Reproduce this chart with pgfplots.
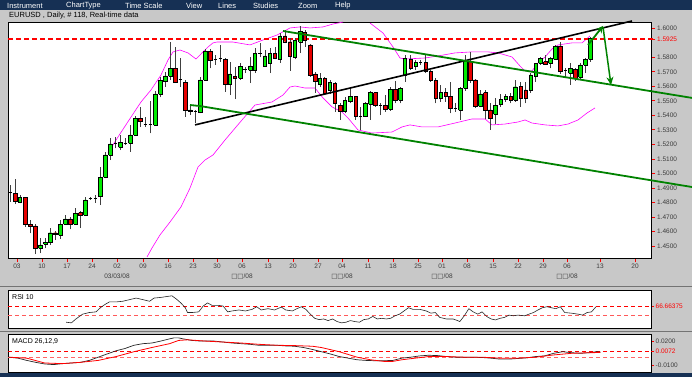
\documentclass[border=0pt]{standalone}
\usepackage{fontspec}
\setmainfont{Liberation Sans}
\newfontfamily\dejavu{DejaVu Sans}
\usepackage{pgfplots}
\usepackage{pgfplotstable}
\pgfplotsset{compat=1.18}
\usetikzlibrary{arrows.meta}
\definecolor{navy}{RGB}{22,48,84}
\definecolor{panelgray}{RGB}{200,200,200}
\definecolor{upgreen}{RGB}{0,235,0}
\definecolor{downred}{RGB}{230,0,0}
\definecolor{levelred}{RGB}{255,0,0}
\definecolor{trendgreen}{RGB}{0,130,0}
\definecolor{bandmag}{RGB}{255,0,255}
\definecolor{ticklab}{RGB}{60,60,60}

\pgfplotstableread{
x o h l c
10.7 1.4867 1.4920 1.4805 1.4867
15.3 1.4863 1.4959 1.4789 1.4805
20.0 1.4801 1.4851 1.4794 1.4835
25.3 1.4835 1.4838 1.4633 1.4651
30.3 1.4651 1.4679 1.4587 1.4638
35.3 1.4638 1.4651 1.4443 1.4484
40.3 1.4484 1.4553 1.4450 1.4507
45.3 1.4514 1.4553 1.4484 1.4527
50.3 1.4523 1.4622 1.4507 1.4591
55.3 1.4591 1.4605 1.4541 1.4582
60.3 1.4576 1.4679 1.4548 1.4649
65.3 1.4649 1.4713 1.4645 1.4686
70.3 1.4686 1.4702 1.4615 1.4651
75.3 1.4651 1.4760 1.4645 1.4725
80.3 1.4729 1.4743 1.4622 1.4713
85.3 1.4713 1.4840 1.4707 1.4817
90.3 1.4829 1.4840 1.4817 1.4829
95.3 1.4829 1.4851 1.4798 1.4829
100.3 1.4840 1.5046 1.4782 1.4973
105.3 1.4973 1.5150 1.4966 1.5127
110.3 1.5127 1.5242 1.5092 1.5203
115.3 1.5203 1.5249 1.5173 1.5203
120.3 1.5180 1.5265 1.5161 1.5212
125.3 1.5207 1.5242 1.5196 1.5207
130.3 1.5207 1.5334 1.5150 1.5265
135.3 1.5265 1.5396 1.5258 1.5380
140.3 1.5380 1.5455 1.5318 1.5361
145.3 1.5334 1.5391 1.5318 1.5334
150.3 1.5334 1.5499 1.5276 1.5334
155.3 1.5334 1.5570 1.5327 1.5547
160.3 1.5547 1.5662 1.5524 1.5639
165.3 1.5632 1.5701 1.5597 1.5671
170.3 1.5671 1.5907 1.5644 1.5724
175.3 1.5724 1.5873 1.5621 1.5625
180.3 1.5644 1.5793 1.5597 1.5644
185.3 1.5627 1.5644 1.5391 1.5432
190.3 1.5425 1.5471 1.5402 1.5437
195.3 1.5425 1.5437 1.5345 1.5425
200.3 1.5418 1.5662 1.5414 1.5644
205.3 1.5644 1.5855 1.5639 1.5839
210.3 1.5843 1.5855 1.5724 1.5777
215.3 1.5786 1.5816 1.5747 1.5786
220.3 1.5793 1.5885 1.5770 1.5793
225.3 1.5786 1.5793 1.5563 1.5616
230.0 1.5616 1.5770 1.5540 1.5685
235.0 1.5666 1.5735 1.5511 1.5655
240.3 1.5655 1.5763 1.5644 1.5735
245.0 1.5717 1.5735 1.5690 1.5717
250.3 1.5712 1.5800 1.5621 1.5740
255.0 1.5708 1.5862 1.5690 1.5828
260.0 1.5828 1.5896 1.5800 1.5828
265.0 1.5740 1.5850 1.5735 1.5809
270.0 1.5759 1.5862 1.5690 1.5828
275.0 1.5828 1.5873 1.5786 1.5793
280.0 1.5786 1.5965 1.5763 1.5947
285.0 1.5947 1.5988 1.5896 1.5907
290.0 1.5907 1.5931 1.5708 1.5804
295.0 1.5800 1.5931 1.5786 1.5914
300.3 1.5907 1.6016 1.5828 1.5976
305.0 1.5970 1.5988 1.5873 1.5914
310.3 1.5885 1.5892 1.5666 1.5678
315.3 1.5685 1.5701 1.5556 1.5632
320.0 1.5616 1.5694 1.5597 1.5655
324.7 1.5655 1.5662 1.5540 1.5552
330.0 1.5570 1.5644 1.5547 1.5625
335.0 1.5621 1.5632 1.5425 1.5483
340.3 1.5471 1.5483 1.5368 1.5425
345.0 1.5425 1.5524 1.5414 1.5501
350.3 1.5494 1.5586 1.5483 1.5529
355.7 1.5529 1.5533 1.5368 1.5391
360.3 1.5391 1.5460 1.5299 1.5391
365.3 1.5391 1.5494 1.5387 1.5483
370.3 1.5478 1.5570 1.5368 1.5556
375.3 1.5556 1.5563 1.5460 1.5471
380.3 1.5471 1.5487 1.5402 1.5471
385.3 1.5471 1.5540 1.5425 1.5442
390.3 1.5442 1.5593 1.5432 1.5580
395.3 1.5580 1.5639 1.5483 1.5506
400.3 1.5506 1.5597 1.5483 1.5586
405.0 1.5678 1.5816 1.5632 1.5793
410.7 1.5786 1.5816 1.5712 1.5724
415.7 1.5735 1.5781 1.5712 1.5763
420.7 1.5763 1.5781 1.5747 1.5763
425.7 1.5763 1.5816 1.5690 1.5701
430.7 1.5701 1.5712 1.5632 1.5639
435.7 1.5639 1.5655 1.5483 1.5518
440.7 1.5518 1.5609 1.5494 1.5556
445.7 1.5556 1.5586 1.5494 1.5533
450.3 1.5533 1.5632 1.5414 1.5449
455.3 1.5449 1.5483 1.5425 1.5449
460.3 1.5437 1.5597 1.5368 1.5586
465.3 1.5586 1.5816 1.5570 1.5781
470.3 1.5770 1.5839 1.5621 1.5639
475.3 1.5644 1.5648 1.5449 1.5464
480.3 1.5464 1.5575 1.5455 1.5547
485.3 1.5556 1.5575 1.5373 1.5437
490.3 1.5437 1.5483 1.5299 1.5380
495.3 1.5407 1.5518 1.5340 1.5471
500.7 1.5478 1.5547 1.5460 1.5511
505.7 1.5511 1.5547 1.5494 1.5533
510.7 1.5533 1.5552 1.5483 1.5506
515.3 1.5506 1.5644 1.5494 1.5597
520.7 1.5602 1.5632 1.5460 1.5518
525.7 1.5575 1.5632 1.5483 1.5518
530.7 1.5575 1.5690 1.5556 1.5678
535.7 1.5666 1.5763 1.5632 1.5759
540.3 1.5759 1.5804 1.5747 1.5793
545.3 1.5770 1.5816 1.5747 1.5754
550.3 1.5759 1.5804 1.5724 1.5793
555.3 1.5786 1.5885 1.5781 1.5873
560.3 1.5878 1.5907 1.5685 1.5701
565.3 1.5712 1.5724 1.5655 1.5712
570.3 1.5690 1.5759 1.5609 1.5724
575.3 1.5717 1.5724 1.5639 1.5655
580.3 1.5662 1.5759 1.5644 1.5747
585.3 1.5747 1.5793 1.5690 1.5786
590.3 1.5786 1.5942 1.5770 1.5931
}\candles

\begin{document}
\begin{tikzpicture}
\useasboundingbox (0,0) rectangle (692pt,-377pt);
\fill[panelgray] (0,0) rectangle (692pt,-377pt);
\fill[navy] (0,0) rectangle (692pt,-10.5pt);
\fill[navy] (0,-373pt) rectangle (692pt,-377pt);
\draw[black!55] (0,-286.5pt) -- (692pt,-286.5pt);
\draw[black!55] (0,-331pt) -- (692pt,-331pt);
\begin{scope}[every node/.style={anchor=west, text=white, inner sep=0pt, font=\fontsize{7.5}{8}\selectfont}]
\node at (7pt,-5.5pt) {Instrument};
\node at (66pt,-5.5pt) {ChartType};
\node at (125pt,-5.5pt) {Time Scale};
\node at (186pt,-5.5pt) {View};
\node at (218pt,-5.5pt) {Lines};
\node at (253pt,-5.5pt) {Studies};
\node at (298pt,-5.5pt) {Zoom};
\node at (335pt,-5.5pt) {Help};
\end{scope}
\node[anchor=west, inner sep=0pt, font=\fontsize{7.5}{8}\selectfont] at (9pt,-15.8pt) {EURUSD , Daily, \# 118, Real-time data};

% ---------------- main price panel ----------------
\begin{axis}[
  at={(8pt,-258pt)}, anchor=south west, scale only axis,
  width=643pt, height=236pt,
  xmin=8, xmax=651, ymin=1.4417, ymax=1.6043,
  clip=false,
  axis background/.style={fill=white},
  axis line style={black, line width=0.8pt},
  tick align=outside, major tick length=4pt,
  tick style={red, line width=0.7pt},
  xtick pos=bottom, ytick pos=right, yticklabel pos=right,
  scaled y ticks=false,
  xtick={17,42,67,92,117,143,168,193,217,242,268,293,318,342,368,393,418,442,467,493,518,543,567,600,635},
  xticklabels={03,10,17,24,{02\\03/03/08},09,16,23,30,{06\\{\dejavu □□}/08},13,20,27,{04\\{\dejavu □□}/08},11,18,25,{01\\{\dejavu □□}/08},08,15,22,29,{06\\{\dejavu □□}/08},13,20},
  xticklabel style={align=center, font=\fontsize{6.5}{10}\selectfont, text=ticklab, inner sep=2pt},
  ytick={1.45,1.46,1.47,1.48,1.49,1.50,1.51,1.52,1.53,1.54,1.55,1.56,1.57,1.58,1.60},
  yticklabels={1.4500,1.4600,1.4700,1.4800,1.4900,1.5000,1.5100,1.5200,1.5300,1.5400,1.5500,1.5600,1.5700,1.5800,1.6000},
  yticklabel style={font=\fontsize{6.5}{7}\selectfont, text=ticklab, inner sep=2pt},
  extra y ticks={1.5925}, extra y tick labels={1.5925},
  extra y tick style={grid=none, yticklabel style={text=levelred}},
  wick/.style={draw=black!75, line width=0.6pt},
  doji/.style={draw=black, line width=0.9pt},
  body/.style={draw=black, line width=0.45pt},
]
% Bollinger bands
\addplot[bandmag, line width=0.6pt] coordinates {
(108,1.5141) (118,1.5251) (131,1.5388) (141,1.5492) (151,1.5575) (161,1.5678)
(168,1.5781) (173,1.5837) (180,1.5850) (188,1.5830) (196,1.5788) (203,1.5837)
(208,1.5871) (213,1.5899) (217,1.5905) (233,1.5905) (250,1.5885) (263,1.5919)
(277,1.5953) (290,1.6002) (300,1.6009) (310,1.6002) (323,1.6009) (333,1.6029) (343,1.6043)};
\addplot[bandmag, line width=0.6pt] coordinates {
(370,1.6036) (383,1.5967) (393,1.5871) (400,1.5795) (405,1.5788) (425,1.5795)
(438,1.5809) (455,1.5830) (472,1.5837) (488,1.5837) (498,1.5830) (512,1.5802)
(520,1.5740) (525,1.5706) (532,1.5706) (538,1.5761) (545,1.5802) (552,1.5857)
(558,1.5885) (572,1.5899) (582,1.5899) (590,1.5947)};
\addplot[bandmag, line width=0.6pt] coordinates {
(147,1.4424) (152,1.4486) (160,1.4576) (170,1.4665) (181,1.4769) (190,1.4899)
(198,1.5044) (205,1.5092) (213,1.5127) (225,1.5230) (242,1.5368) (255,1.5471)
(272,1.5492) (283,1.5540) (290,1.5595) (295,1.5602) (305,1.5588) (315,1.5588)
(323,1.5520) (332,1.5458) (342,1.5423) (348,1.5382) (358,1.5299) (372,1.5278)
(392,1.5285) (402,1.5320) (410,1.5334) (422,1.5320) (438,1.5320) (455,1.5347)
(472,1.5375) (485,1.5375) (492,1.5334) (505,1.5340) (518,1.5354) (525,1.5368)
(532,1.5347) (545,1.5334) (558,1.5327) (568,1.5340) (578,1.5368) (587,1.5416) (595,1.5451)};
% red dashed level
\addplot[color=levelred, solid, line width=1.4pt, dash pattern=on 5pt off 3pt] coordinates {(8,1.5925) (653,1.5925)};
% candles
\pgfplotstablegetrowsof{\candles}
\pgfmathtruncatemacro{\lastrow}{\pgfplotsretval-1}
\pgfplotsforeachungrouped \i in {0,...,\lastrow}{%
  \pgfplotstablegetelem{\i}{x}\of\candles \let\cx\pgfplotsretval
  \pgfplotstablegetelem{\i}{o}\of\candles \let\co\pgfplotsretval
  \pgfplotstablegetelem{\i}{h}\of\candles \let\ch\pgfplotsretval
  \pgfplotstablegetelem{\i}{l}\of\candles \let\cl\pgfplotsretval
  \pgfplotstablegetelem{\i}{c}\of\candles \let\cc\pgfplotsretval
  \pgfmathsetmacro{\xl}{\cx-1.6}%
  \pgfmathsetmacro{\xr}{\cx+1.6}%
  \pgfmathtruncatemacro{\kind}{(\cc>\co) ? 1 : ((\cc<\co) ? 2 : 0)}%
  \edef\temp{\noexpand\addplot[wick] coordinates {(\cx,\cl) (\cx,\ch)};}\temp
  \ifcase\kind
    \edef\temp{\noexpand\addplot[doji] coordinates {(\xl,\co) (\xr,\co)};}\temp
  \or
    \edef\temp{\noexpand\addplot[body, fill=upgreen] coordinates {(\xl,\co) (\xr,\co) (\xr,\cc) (\xl,\cc) (\xl,\co)};}\temp
  \or
    \edef\temp{\noexpand\addplot[body, fill=downred] coordinates {(\xl,\co) (\xr,\co) (\xr,\cc) (\xl,\cc) (\xl,\co)};}\temp
  \fi
}
% trend lines
\addplot[black, line width=1.6pt] coordinates {(195,1.5334) (632,1.6050)};
\addplot[trendgreen, line width=1.8pt] coordinates {(283,1.5981) (692,1.5520)};
\addplot[trendgreen, line width=1.8pt] coordinates {(190,1.5471) (200,1.5464) (692,1.4906)};
% arrows
\addplot[trendgreen, line width=1.8pt, -{Stealth[length=7pt,width=7pt]}] coordinates {(588,1.5885) (603,1.6016)};
\addplot[trendgreen, line width=1.5pt, -{Stealth[length=8pt,width=7pt]}] coordinates {(603,1.6009) (611,1.5609)};
\end{axis}

% ---------------- RSI panel ----------------
\begin{axis}[
  at={(8pt,-328pt)}, anchor=south west, scale only axis,
  width=643pt, height=38pt,
  xmin=8, xmax=651, ymin=26.2, ymax=96.4,
  axis background/.style={fill=white},
  axis line style={black, line width=0.8pt},
  scaled y ticks=false,
  xtick=\empty, ytick={66.66375}, yticklabels={66.66375},
  ytick pos=right, yticklabel pos=right, tick align=outside, major tick length=3pt,
  tick style={red},
  yticklabel style={font=\fontsize{6.5}{7}\selectfont, text=levelred, inner sep=1.5pt},
]
\addplot[color=levelred, solid, line width=1pt, dash pattern=on 4pt off 3pt] coordinates {(8,66.66375) (651,66.66375)};
\addplot[color=levelred!65, solid, line width=0.8pt, dash pattern=on 4pt off 3pt] coordinates {(8,50) (651,50)};
\addplot[black!85, line width=0.6pt] coordinates {
(66.1,36.9) (71.4,35.7) (75.9,42.9) (82.6,51.8) (89.3,54.8) (96.0,56.0) (100.4,63.7)
(104.9,69.6) (109.4,74.4) (116.1,74.4) (122.8,75.6) (129.5,78.6) (136.2,81.5)
(142.9,78.6) (149.6,75.6) (154.0,81.5) (160.7,82.7) (167.4,84.5) (171.9,85.7)
(176.3,79.8) (180.8,72.6) (185.3,63.7) (187.5,54.8) (192.0,54.8) (198.7,56.0)
(203.1,66.7) (207.6,72.6) (212.1,67.9) (218.8,67.9) (223.2,66.7) (227.7,56.0)
(232.1,57.7) (238.8,59.5) (245.5,57.7) (252.2,60.7) (256.7,65.5) (261.2,59.5)
(267.9,61.9) (274.6,59.5) (281.3,64.9) (285.7,59.5) (292.4,57.7) (296.9,61.9)
(301.3,65.5) (305.8,60.7) (310.3,51.8) (314.7,44.1) (319.2,41.7) (323.7,42.9)
(328.1,39.9) (332.6,42.9) (337.1,38.1) (341.5,35.7) (346.0,36.9) (350.4,39.9)
(354.9,38.1) (359.4,36.9) (363.8,41.7) (368.3,42.9) (372.8,47.6) (377.2,42.9)
(381.7,44.1) (386.2,42.9) (390.6,44.1) (395.1,48.8) (399.6,51.8) (404.0,57.7)
(408.5,63.7) (412.9,60.7) (419.6,60.7) (426.3,57.7) (430.8,53.6) (435.3,54.8)
(439.7,45.8) (446.4,42.9) (453.1,42.9) (457.6,39.9) (459.8,38.1) (464.3,48.8)
(468.8,61.9) (473.2,56.0) (477.7,51.8) (482.1,56.0) (486.6,47.6) (491.1,42.9)
(495.5,41.1) (500.0,44.1) (504.5,45.8) (508.9,50.0) (513.4,48.8) (517.9,50.0)
(524.6,48.8) (529.0,51.8) (533.5,54.8) (537.9,59.5) (542.4,63.7) (546.9,65.5)
(551.3,63.7) (555.8,61.9) (560.3,65.5) (564.7,54.8) (571.4,53.6) (578.1,51.8)
(582.6,50.0) (587.1,54.8) (591.5,56.0) (596.0,65.5)};
\node[anchor=north west, inner sep=0pt, font=\fontsize{7}{8}\selectfont] at ([xshift=4pt,yshift=-4pt]rel axis cs:0,1) {RSI 10};
\end{axis}

% ---------------- MACD panel ----------------
\begin{axis}[
  at={(8pt,-372pt)}, anchor=south west, scale only axis,
  width=643pt, height=38pt,
  xmin=8, xmax=651, ymin=-0.0184, ymax=0.0288,
  axis background/.style={fill=white},
  axis line style={black, line width=0.8pt},
  scaled y ticks=false,
  xtick=\empty, ytick={-0.01,0.02}, yticklabels={-0.0100,0.0200},
  ytick pos=right, yticklabel pos=right, tick align=outside, major tick length=3pt,
  tick style={red},
  yticklabel style={font=\fontsize{6.5}{7}\selectfont, text=ticklab, inner sep=1.5pt},
  extra y ticks={0.0072}, extra y tick labels={0.0072},
  extra y tick style={grid=none, yticklabel style={text=levelred}},
]
\addplot[color=levelred, solid, line width=1pt, dash pattern=on 4pt off 3pt] coordinates {(8,0.0072) (651,0.0072)};
\addplot[color=levelred!60, solid, line width=0.8pt, dash pattern=on 4pt off 3pt] coordinates {(8,0) (651,0)};
\addplot[black!85, line width=0.7pt] coordinates {
(8.9,0) (17.9,-0.0012) (26.8,-0.0040) (35.7,-0.0064) (44.6,-0.0084) (53.6,-0.0092)
(62.5,-0.0080) (71.4,-0.0072) (80.4,-0.0064) (89.3,-0.0040) (98.2,0) (107.1,0.0040)
(116.1,0.0080) (125.0,0.0108) (133.9,0.0148) (142.9,0.0168) (151.8,0.0176)
(160.7,0.0200) (169.6,0.0228) (174.1,0.0240) (178.6,0.0240) (183.0,0.0228)
(192.0,0.0208) (200.9,0.0200) (214.3,0.0200) (223.2,0.0188) (232.1,0.0176)
(241.1,0.0168) (250.0,0.0160) (258.9,0.0148) (267.9,0.0148) (276.8,0.0148)
(285.7,0.0140) (294.6,0.0136) (303.6,0.0120) (312.5,0.0096) (321.4,0.0068)
(330.4,0.0040) (339.3,0.0008) (348.2,-0.0012) (357.1,-0.0032) (366.1,-0.0040)
(375.0,-0.0044) (383.9,-0.0044) (392.9,-0.0040) (401.8,-0.0012) (410.7,0)
(419.6,0.0016) (428.6,0.0024) (437.5,0.0020) (446.4,0.0008) (455.4,0) (464.3,0)
(473.2,0) (482.1,-0.0004) (491.1,-0.0012) (500.0,-0.0024) (508.9,-0.0024)
(517.9,-0.0016) (526.8,-0.0008) (535.7,0.0008) (544.6,0.0016) (553.6,0.0048)
(562.5,0.0068) (571.4,0.0056) (580.4,0.0048) (589.3,0.0056) (596.0,0.0068) (600.4,0.0064)};
\addplot[draw=levelred, line width=0.8pt] coordinates {
(8.9,0) (26.8,-0.0012) (44.6,-0.0072) (62.5,-0.0080) (80.4,-0.0064) (98.2,-0.0040)
(116.1,0.0008) (133.9,0.0068) (151.8,0.0120) (169.6,0.0168) (178.6,0.0208)
(187.5,0.0216) (196.4,0.0208) (205.4,0.0200) (223.2,0.0188) (241.1,0.0176)
(258.9,0.0160) (276.8,0.0148) (294.6,0.0144) (312.5,0.0136) (321.4,0.0120)
(339.3,0.0068) (357.1,0.0000) (370.5,-0.0032) (383.9,-0.0052) (392.9,-0.0052)
(401.8,-0.0032) (415.2,-0.0012) (428.6,0.0008) (446.4,0.0008) (464.3,0) (482.1,0)
(500.0,-0.0012) (517.9,-0.0012) (535.7,0) (553.6,0.0028) (571.4,0.0048)
(589.3,0.0056) (600.4,0.0058)};
\node[anchor=north west, inner sep=0pt, font=\fontsize{7}{8}\selectfont] at ([xshift=4pt,yshift=-4pt]rel axis cs:0,1) {MACD 26,12,9};
\end{axis}
\end{tikzpicture}
\end{document}
